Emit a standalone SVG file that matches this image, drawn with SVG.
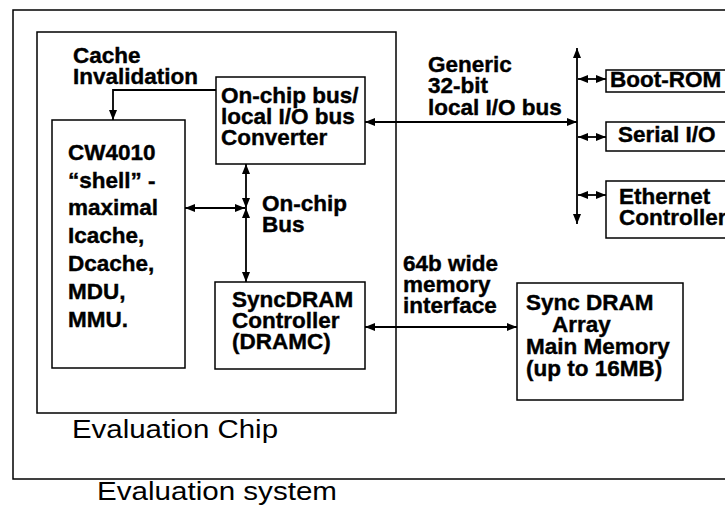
<svg xmlns="http://www.w3.org/2000/svg" width="725" height="505" viewBox="0 0 725 505">
<style>
.box{fill:none;stroke:#000;stroke-width:1.5}
.b{font-family:"Liberation Sans",Arial,sans-serif;font-weight:bold;font-size:22.5px;fill:#000;stroke:#000;stroke-width:0.4}
.r{font-family:"Liberation Sans",Arial,sans-serif;font-size:25px;fill:#000}
.c{fill:none;stroke:#000;stroke-width:1.8}
.d{marker-start:url(#ah);marker-end:url(#ah)}
.e{marker-end:url(#ah)}
</style>
<defs>
<marker id="ah" viewBox="0 0 10 8" refX="10" refY="4" markerWidth="10" markerHeight="8" markerUnits="userSpaceOnUse" orient="auto-start-reverse">
<path d="M0,0 L10,4 L0,8 z" fill="#000"/>
</marker>
</defs>
<rect width="725" height="505" fill="#fff"/>
<g id="system">
<rect class="box" x="13" y="10" width="730" height="469"/>
<text class="r" x="97" y="500" textLength="240" lengthAdjust="spacingAndGlyphs">Evaluation system</text>
</g>
<g id="chip">
<rect class="box" x="37" y="32" width="359" height="381"/>
<text class="r" x="72" y="438" textLength="206" lengthAdjust="spacingAndGlyphs">Evaluation Chip</text>
</g>
<g id="cw4010">
<rect class="box" x="52" y="120" width="133" height="248"/>
<text class="b" x="68" y="160">CW4010</text>
<text class="b" x="68" y="188">“shell” -</text>
<text class="b" x="68" y="215">maximal</text>
<text class="b" x="68" y="243">Icache,</text>
<text class="b" x="68" y="271">Dcache,</text>
<text class="b" x="68" y="299">MDU,</text>
<text class="b" x="68" y="327">MMU.</text>
</g>
<g id="converter">
<rect class="box" x="216" y="77" width="149" height="87"/>
<text class="b" x="221" y="103">On-chip bus/</text>
<text class="b" x="221" y="124">local I/O bus</text>
<text class="b" x="221" y="145">Converter</text>
</g>
<g id="dramc">
<rect class="box" x="215" y="282" width="150" height="87"/>
<text class="b" x="232" y="307">SyncDRAM</text>
<text class="b" x="232" y="328">Controller</text>
<text class="b" x="232" y="349">(DRAMC)</text>
</g>
<g id="dram-array">
<rect class="box" x="517" y="283" width="166" height="117"/>
<text class="b" x="526" y="310">Sync DRAM</text>
<text class="b" x="552" y="332">Array</text>
<text class="b" x="526" y="354">Main Memory</text>
<text class="b" x="526" y="376">(up to 16MB)</text>
</g>
<g id="boot-rom">
<rect class="box" x="606" y="70" width="140" height="22"/>
<text class="b" x="610" y="87">Boot-ROM</text>
</g>
<g id="serial-io">
<rect class="box" x="606" y="122" width="140" height="29"/>
<text class="b" x="618" y="142">Serial I/O</text>
</g>
<g id="ethernet">
<rect class="box" x="606" y="181" width="140" height="57"/>
<text class="b" x="619" y="204">Ethernet</text>
<text class="b" x="619" y="225">Controller</text>
</g>
<g id="labels">
<text class="b" x="73" y="63">Cache</text>
<text class="b" x="73" y="84">Invalidation</text>
<text class="b" x="262" y="211">On-chip</text>
<text class="b" x="262" y="232">Bus</text>
<text class="b" x="428" y="72">Generic</text>
<text class="b" x="428" y="93">32-bit</text>
<text class="b" x="428" y="115">local I/O bus</text>
<text class="b" x="403" y="271">64b wide</text>
<text class="b" x="403" y="292">memory</text>
<text class="b" x="403" y="313">interface</text>
</g>
<g id="connectors">
<polyline class="c e" points="216,90 113,90 113,120"/>
<line class="c d" x1="246" y1="164" x2="246" y2="208"/>
<line class="c d" x1="246" y1="208" x2="246" y2="282"/>
<line class="c d" x1="185" y1="208" x2="245" y2="208"/>
<line class="c d" x1="365" y1="122" x2="577" y2="122"/>
<line class="c d" x1="577" y1="48" x2="577" y2="224"/>
<line class="c d" x1="578" y1="79" x2="606" y2="79"/>
<line class="c d" x1="578" y1="137" x2="606" y2="137"/>
<line class="c d" x1="578" y1="195" x2="606" y2="195"/>
<line class="c d" x1="365" y1="327" x2="517" y2="327"/>
</g>
</svg>
